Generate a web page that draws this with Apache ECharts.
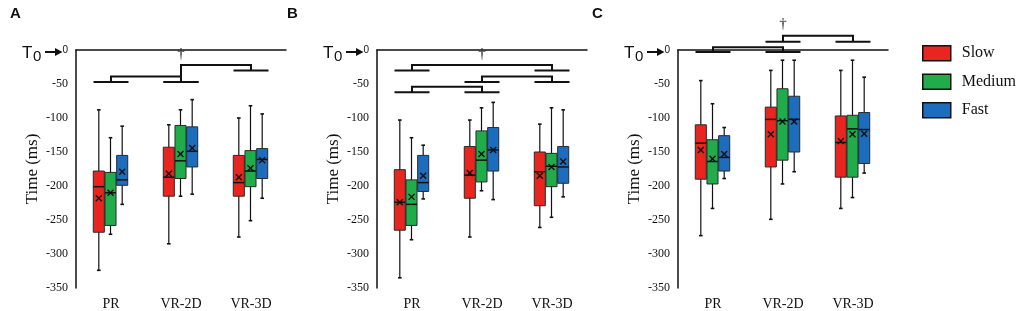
<!DOCTYPE html>
<html>
<head>
<meta charset="utf-8">
<script src="https://cdn.jsdelivr.net/npm/echarts@6/dist/echarts.min.js"></script>
<style>
  html, body { margin: 0; padding: 0; background: #fff; }
  #main { width: 1021px; height: 311px; }
</style>
</head>
<body>
<div id="main"></div>
<script>
// categories and groups
const categories = ['PR', 'VR-2D', 'VR-3D'];
const speedNames = ['Slow', 'Medium', 'Fast'];

// box values per category: [min, Q1, median, Q3, max]
const aSlow = [[-324, -268, -201, -178, -88], [-285, -215, -187, -143, -110], [-275, -215, -195, -155, -100]];
const aMedium = [[-271, -258, -210, -180, -129], [-215, -189, -163, -111, -88], [-251, -201, -178, -148, -82]];
const aFast = [[-227, -199, -191, -155, -112], [-212, -172, -149, -113, -73], [-218, -189, -161, -145, -94]];
// means per speed (Slow, Medium, Fast) for PR, VR-2D, VR-3D
const aMeans = [[-218, -182, -187], [-210, -153, -174], [-179, -144, -162]];

const bSlow = [[-335, -265, -224, -176, -103], [-275, -218, -184, -142, -103], [-261, -229, -179, -150, -109]];
const bMedium = [[-279, -258, -227, -191, -129], [-207, -194, -162, -119, -85], [-246, -201, -171, -152, -85]];
const bFast = [[-219, -208, -195, -155, -140], [-220, -178, -147, -114, -77], [-216, -196, -172, -142, -88]];
const bMeans = [[-224, -181, -185], [-216, -153, -172], [-185, -147, -164]];

const cSlow = [[-273, -190, -137, -110, -45], [-249, -172, -102, -84, -30], [-233, -187, -136, -97, -30]];
const cMedium = [[-233, -197, -164, -132, -79], [-197, -162, -104, -57, -15], [-217, -187, -116, -96, -15]];
const cFast = [[-189, -178, -158, -126, -114], [-179, -150, -102, -68, -15], [-181, -167, -117, -92, -40]];
const cMeans = [[-147, -124, -134], [-160, -105, -124], [-153, -105, -123]];

// significance brackets: [fromCat, toCat, fromY, toY, topY]
const aBrackets = [[0, 1, -47, -47, -39], [1, 2, -47, -30, -22]];
const bBrackets = [[0, 2, -30, -30, -22], [1, 2, -47, -47, -39], [0, 1, -62, -62, -54]];
const cBrackets = [[0, 1, -3, -3, 4], [1, 2, 12, 12, 21]];
// dagger marks: [cat, y]
const aDagger = [[1, -6]];
const bDagger = [[1, -6]];
const cDagger = [[1, 38]];

const colors = ['#e8251f', '#20ac4b', '#1d6dbf'];
const axisLefts = [76, 377, 678];
const ink = '#111';

const panels = [
  { boxes: [aSlow, aMedium, aFast], means: aMeans, brackets: aBrackets, dagger: aDagger },
  { boxes: [bSlow, bMedium, bFast], means: bMeans, brackets: bBrackets, dagger: bDagger },
  { boxes: [cSlow, cMedium, cFast], means: cMeans, brackets: cBrackets, dagger: cDagger }
];

function boxSeries(p, s) {
  const rows = panels[p].boxes[s].map(function (b, i) {
    return [i].concat(b, [panels[p].means[s][i]]);
  });
  return {
    type: 'custom',
    name: speedNames[s],
    xAxisIndex: p,
    yAxisIndex: p,
    itemStyle: { color: colors[s] },
    encode: { x: 0, y: [1, 2, 3, 4, 5, 6] },
    data: rows,
    renderItem: function (params, api) {
      const cat = api.value(0);
      const band = api.size([1, 0])[0];
      const cx = api.coord([cat, 0])[0] + (s - 1) * band * 0.167 - 0.5;
      const w = band * 0.158;
      const y = [1, 2, 3, 4, 5, 6].map(function (d) { return api.coord([cat, api.value(d)])[1]; });
      const cap = 1.8;
      const ls = { stroke: ink, lineWidth: 1.2 };
      const m = 3;
      return {
        type: 'group',
        children: [
          { type: 'line', shape: { x1: cx, y1: y[4], x2: cx, y2: y[0] }, style: ls },
          { type: 'line', shape: { x1: cx - cap, y1: y[4], x2: cx + cap, y2: y[4] }, style: { stroke: ink, lineWidth: 1.6 } },
          { type: 'line', shape: { x1: cx - cap, y1: y[0], x2: cx + cap, y2: y[0] }, style: { stroke: ink, lineWidth: 1.6 } },
          { type: 'rect', shape: { x: cx - w / 2, y: y[3], width: w, height: y[1] - y[3] },
            style: { fill: colors[s], stroke: '#2a2a2a', lineWidth: 1 } },
          { type: 'line', shape: { x1: cx - w / 2, y1: y[2], x2: cx + w / 2, y2: y[2] }, style: { stroke: ink, lineWidth: 1.5 } },
          { type: 'line', shape: { x1: cx - m, y1: y[5] - m, x2: cx + m, y2: y[5] + m }, style: { stroke: ink, lineWidth: 1.4 } },
          { type: 'line', shape: { x1: cx - m, y1: y[5] + m, x2: cx + m, y2: y[5] - m }, style: { stroke: ink, lineWidth: 1.4 } }
        ]
      };
    }
  };
}

function bracketSeries(p) {
  return {
    type: 'custom',
    xAxisIndex: p,
    yAxisIndex: p,
    silent: true,
    clip: false,
    encode: { x: [0, 1], y: [2, 3, 4] },
    data: panels[p].brackets,
    renderItem: function (params, api) {
      const band = api.size([1, 0])[0];
      const half = band * 0.25;
      const a = api.coord([api.value(0), api.value(2)]);
      const b = api.coord([api.value(1), api.value(3)]);
      const top = api.coord([api.value(0), api.value(4)])[1];
      const st = { stroke: ink, lineWidth: 2, fill: null };
      return {
        type: 'group',
        children: [
          { type: 'line', shape: { x1: a[0] - half, y1: a[1], x2: a[0] + half, y2: a[1] }, style: st },
          { type: 'line', shape: { x1: b[0] - half, y1: b[1], x2: b[0] + half, y2: b[1] }, style: st },
          { type: 'polyline', shape: { points: [[a[0], a[1]], [a[0], top], [b[0], top], [b[0], b[1]]] }, style: st }
        ]
      };
    }
  };
}

function daggerSeries(p) {
  return {
    type: 'custom',
    xAxisIndex: p,
    yAxisIndex: p,
    silent: true,
    clip: false,
    encode: { x: 0, y: 1 },
    data: panels[p].dagger,
    renderItem: function (params, api) {
      const pt = api.coord([api.value(0), api.value(1)]);
      return {
        type: 'text',
        x: pt[0],
        y: pt[1],
        style: { text: '†', font: '15px "Liberation Serif"', fill: '#222', align: 'center', verticalAlign: 'middle' }
      };
    }
  };
}

const series = [];
const grids = [];
const xAxes = [];
const yAxes = [];
const graphics = [];
for (let p = 0; p < 3; p++) {
  grids.push({ left: axisLefts[p], top: 50, width: 210, height: 238 });
  xAxes.push({
    type: 'category', gridIndex: p, data: categories,
    axisLine: { lineStyle: { color: ink, width: 1.5 } },
    axisTick: { show: false },
    axisLabel: { color: ink, fontFamily: 'Liberation Serif', fontSize: 14, margin: 9 },
    splitLine: { show: false }
  });
  yAxes.push({
    type: 'value', gridIndex: p, min: -350, max: 0, interval: 50,
    name: 'Time (ms)', nameLocation: 'middle', nameGap: 35,
    nameTextStyle: { color: ink, fontFamily: 'Liberation Serif', fontSize: 17 },
    axisLine: { show: true, lineStyle: { color: ink, width: 1.5 } },
    axisTick: { show: false },
    splitLine: { show: false },
    axisLabel: {
      color: ink, fontFamily: 'Liberation Serif', fontSize: 12, margin: 8,
      formatter: function (v) { return v === 0 ? '{z|0}' : String(v); },
      rich: { z: { fontFamily: 'Liberation Sans', fontSize: 10, color: ink } }
    }
  });
  for (let s = 0; s < 3; s++) series.push(boxSeries(p, s));
  series.push(bracketSeries(p));
  series.push(daggerSeries(p));

  const ax = axisLefts[p];
  graphics.push(
    { type: 'text', x: ax - 54, y: 53, style: { text: 'T', font: '17px "Liberation Sans"', fill: ink, verticalAlign: 'middle' } },
    { type: 'text', x: ax - 43, y: 56.5, style: { text: '0', font: '15px "Liberation Sans"', fill: ink, verticalAlign: 'middle' } },
    { type: 'line', shape: { x1: ax - 31, y1: 52, x2: ax - 19, y2: 52 }, style: { stroke: ink, lineWidth: 2 } },
    { type: 'polygon', shape: { points: [[ax - 21, 48], [ax - 13.5, 52], [ax - 21, 56]] }, style: { fill: ink } }
  );
}

const chart = echarts.init(document.getElementById('main'));
chart.setOption({
  animation: false,
  backgroundColor: '#fff',
  title: [
    { text: 'A', left: 10, top: 6, padding: 0, textStyle: { fontSize: 15, fontWeight: 'bold', fontFamily: 'Liberation Sans', color: ink } },
    { text: 'B', left: 287, top: 6, padding: 0, textStyle: { fontSize: 15, fontWeight: 'bold', fontFamily: 'Liberation Sans', color: ink } },
    { text: 'C', left: 592, top: 6, padding: 0, textStyle: { fontSize: 15, fontWeight: 'bold', fontFamily: 'Liberation Sans', color: ink } }
  ],
  legend: {
    orient: 'vertical', left: 922, top: 45, padding: 0,
    data: speedNames, icon: 'rect', itemWidth: 28, itemHeight: 15, itemGap: 12,
    selectedMode: false,
    itemStyle: { borderColor: '#111', borderWidth: 1.5 },
    textStyle: { fontFamily: 'Liberation Serif', fontSize: 16, lineHeight: 16, color: ink, padding: [0, 0, 0, 6] }
  },
  grid: grids,
  xAxis: xAxes,
  yAxis: yAxes,
  graphic: graphics,
  series: series
});
</script>
</body>
</html>
